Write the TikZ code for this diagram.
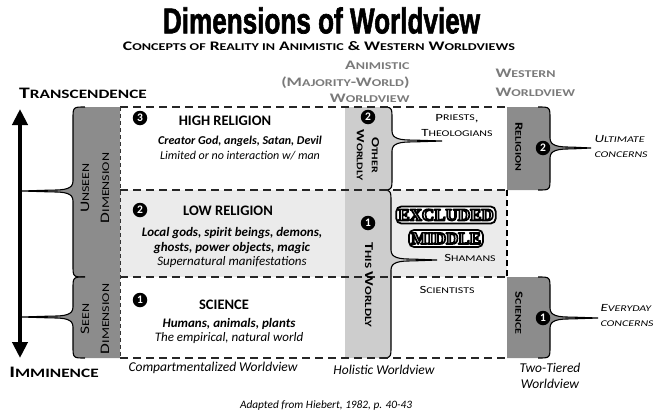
\documentclass[tikz,border=0pt]{standalone}
\usepackage{fontspec}
\setmainfont{Carlito}
\newfontfamily\capsfont{Carlito}[FakeStretch=1.35]
\newfontfamily\titlefont{Liberation Sans}[FakeBold=2]
\newfontfamily\stampfont{Liberation Serif}
\usetikzlibrary{arrows.meta}

\definecolor{darkband}{HTML}{8C8C8C}
\definecolor{lightband}{HTML}{CDCDCD}
\definecolor{lowrow}{HTML}{EBEBEB}
\definecolor{headgray}{HTML}{7A7A7A}

% small capitals made by hand
\newcommand{\sm}[1]{\scalebox{0.8}{#1}}
% white letters with a black rim
\newcommand{\outl}[1]{\special{pdf:code q 2 Tr 1.7 w 1 j 1 1 1 rg 0 0 0 RG}#1\special{pdf:code Q}}
% brace shaped band: fill, flat x, brace x, top y, bottom y, tip x, tip y
\newcommand{\dimshape}[7]{%
  \pgfmathsetmacro{\bsg}{(#3>#2) ? 1 : -1}%
  \fill[#1] (#2,#4) -- ({#3-\bsg*12},#4) .. controls (#3,#4) .. (#3,{#4+12})
    -- (#3,{#7-10}) .. controls (#3,{#7-2}) and ({#3+\bsg*8},{#7-0.9}) .. ({#3+\bsg*22},{#7-0.9})
    -- (#6,#7) -- ({#3+\bsg*22},{#7+0.9})
    .. controls ({#3+\bsg*8},{#7+0.9}) and (#3,{#7+2}) .. (#3,{#7+10})
    -- (#3,{#5-12}) .. controls (#3,#5) .. ({#3-\bsg*12},#5) -- (#2,#5) -- cycle;
  \draw[braceline] ({#3-\bsg*12},#4) .. controls (#3,#4) .. (#3,{#4+12})
    -- (#3,{#7-10}) .. controls (#3,{#7-2}) and ({#3+\bsg*8},{#7-0.9}) .. ({#3+\bsg*22},{#7-0.9})
    -- (#6,#7) -- ({#3+\bsg*22},{#7+0.9})
    .. controls ({#3+\bsg*8},{#7+0.9}) and (#3,{#7+2}) .. (#3,{#7+10})
    -- (#3,{#5-12}) .. controls (#3,#5) .. ({#3-\bsg*12},#5);
}

\begin{document}
\begin{tikzpicture}[x=1pt, y=-1pt,
    braceline/.style={line width=1.1pt},
    rowline/.style={line width=1.5pt, black!85, dash pattern=on 8pt off 5pt},
    sideline/.style={line width=0.9pt, black!80, dash pattern=on 4pt off 3pt},
    gapline/.style={line width=2.6pt, dash pattern=on 6pt off 4pt},
    updown/.style={line width=4pt, {Triangle[width=15pt,length=16pt]}-{Triangle[width=15pt,length=16pt]}},
    num/.style={circle, fill=black, text=white, inner sep=0pt, minimum size=14.5pt, font=\bfseries\fontsize{11.5}{11.5}\selectfont},
    rowhead/.style={font=\bfseries\fontsize{14.5}{16}\selectfont},
    rowtext/.style={font=\itshape\fontsize{12}{14.5}\selectfont, align=center},
    axislabel/.style={font=\capsfont\bfseries\fontsize{16}{16}\selectfont},
    colhead/.style={font=\capsfont\bfseries\fontsize{13}{16.5}\selectfont, text=headgray},
    sidecap/.style={font=\capsfont\fontsize{13}{20}\selectfont, align=center},
    midcap/.style={font=\capsfont\bfseries\fontsize{11}{15}\selectfont, align=center},
    smallcap/.style={font=\capsfont\fontsize{11}{15}\selectfont, align=center},
    concern/.style={font=\capsfont\itshape\fontsize{11}{15}\selectfont, align=left, anchor=west},
    foot/.style={font=\itshape\fontsize{13.5}{15.5}\selectfont, align=center},
    stamp/.style={draw, line width=1.8pt, rounded corners=5pt, fill=white, inner xsep=2pt, inner ysep=3pt,
      text height=11pt, text depth=0pt, font=\stampfont\bfseries\fontsize{17}{17}\selectfont}]
  \useasboundingbox (0,0) rectangle (653,415);

  % titles
  \node[inner sep=0] (title) at (321.5,20.5) {\resizebox{317pt}{26pt}{\titlefont\bfseries Dimensions of Worldview}};
  \node[inner sep=0] (subtitle) at (319,46) {\resizebox{392pt}{!}{\capsfont\bfseries C\sm{ONCEPTS OF} R\sm{EALITY IN} A\sm{NIMISTIC} \& W\sm{ESTERN} W\sm{ORLDVIEWS}}};
  \node[colhead, anchor=east, align=right] (animhead) at (413,82) {A\sm{NIMISTIC}\\(M\sm{AJORITY}-W\sm{ORLD})\\W\sm{ORLDVIEW}};
  \node[colhead, anchor=west, align=left] (westhead) at (492,83) {W\sm{ESTERN}\\[2pt]W\sm{ORLDVIEW}};

  % bands and braces
  \fill[lowrow] (120,190) rectangle (507,277);
  \dimshape{darkband}{120}{73}{107}{277}{22}{191}
  \dimshape{darkband}{120}{73}{277}{358}{22}{317}
  \dimshape{lightband}{345}{392}{107}{190}{442}{141}
  \dimshape{lightband}{345}{391}{190}{358}{437}{260}
  \dimshape{darkband}{507}{550}{107}{190}{591}{148}
  \dimshape{darkband}{507}{550}{277}{358}{598}{318}

  % grid
  \draw[rowline] (120,107) -- (507,107);
  \draw[rowline] (120,190) -- (507,190);
  \draw[rowline] (120,277) -- (507,277);
  \draw[rowline] (120,358) -- (507,358);
  \draw[sideline] (120,107) -- (120,358);
  \draw[gapline] (507,190) -- (507,277);

  % axis
  \node[axislabel] (trans) at (83,93) {T\sm{RANSCENDENCE}};
  \node[axislabel] (immin) at (54,372) {I\sm{MMINENCE}};
  \coordinate (uptip) at (20,109);
  \coordinate (downtip) at (20,358);
  \draw[updown] (downtip) -- (uptip);
  \node[sidecap, rotate=90] (unseen) at (95,188) {U\sm{NSEEN}\\D\sm{IMENSION}};
  \node[sidecap, rotate=90] (seen) at (95,319) {S\sm{EEN}\\D\sm{IMENSION}};

  % compartments
  \node[num] (n3) at (140,118) {3};
  \node[rowhead] (high) at (225,121) {HIGH RELIGION};
  \node[rowtext] (highdesc) at (240,148) {\textbf{Creator God, angels, Satan, Devil}\\Limited or no interaction w/ man};
  \node[num] (n2) at (140,210) {2};
  \node[rowhead] (low) at (228,211) {LOW RELIGION};
  \node[rowtext, font=\itshape\fontsize{13}{14.5}\selectfont] (lowdesc) at (232,247.5) {\textbf{Local gods, spirit beings, demons,}\\\textbf{ghosts, power objects, magic}\\Supernatural manifestations};
  \node[num] (n1) at (140,300) {1};
  \node[rowhead] (science) at (224,305) {SCIENCE};
  \node[rowtext, font=\itshape\fontsize{13}{14.5}\selectfont] (sciencedesc) at (229,331) {\textbf{Humans, animals, plants}\\The empirical, natural world};

  % animistic column
  \node[num] (n2mid) at (368,117) {2};
  \node[midcap, rotate=-90] (otherw) at (368,155) {O\sm{THER}\\W\sm{ORLDLY}};
  \node[num] (n1mid) at (368,223) {1};
  \node[midcap, rotate=-90, font=\capsfont\bfseries\fontsize{12}{15}\selectfont] (thisw) at (369,285) {T\sm{HIS} W\sm{ORLDLY}};
  \node[smallcap] (priests) at (457,125) {P\sm{RIESTS},\\T\sm{HEOLOGIANS}};
  \node[stamp] (excl) at (446,215) {\outl{EXCLUDED}};
  \node[stamp] (midd) at (446,238.5) {\outl{MIDDLE}};
  \node[smallcap] (shamans) at (470,258) {S\sm{HAMANS}};
  \node[smallcap] (scient) at (447,290) {S\sm{CIENTISTS}};

  % western column
  \node[midcap, rotate=-90] (relig) at (519,147) {R\sm{ELIGION}};
  \node[num] (n2west) at (543,148) {2};
  \node[midcap, rotate=-90] (sciwest) at (519,313) {S\sm{CIENCE}};
  \node[num] (n1west) at (543,318) {1};
  \node[concern] (ultimate) at (591,146) {U\sm{LTIMATE}\\\sm{CONCERNS}};
  \node[concern] (everyday) at (597,315) {E\sm{VERYDAY}\\\sm{CONCERNS}};

  % footers
  \node[foot] (compart) at (213,368) {Compartmentalized Worldview};
  \node[foot] (holistic) at (384,370) {Holistic Worldview};
  \node[foot] (twotier) at (550,376) {Two-Tiered\\Worldview};
  \node[foot, font=\itshape\fontsize{11.3}{13}\selectfont] (source) at (326,405) {Adapted from Hiebert, 1982, p. 40-43};
\end{tikzpicture}
\end{document}
